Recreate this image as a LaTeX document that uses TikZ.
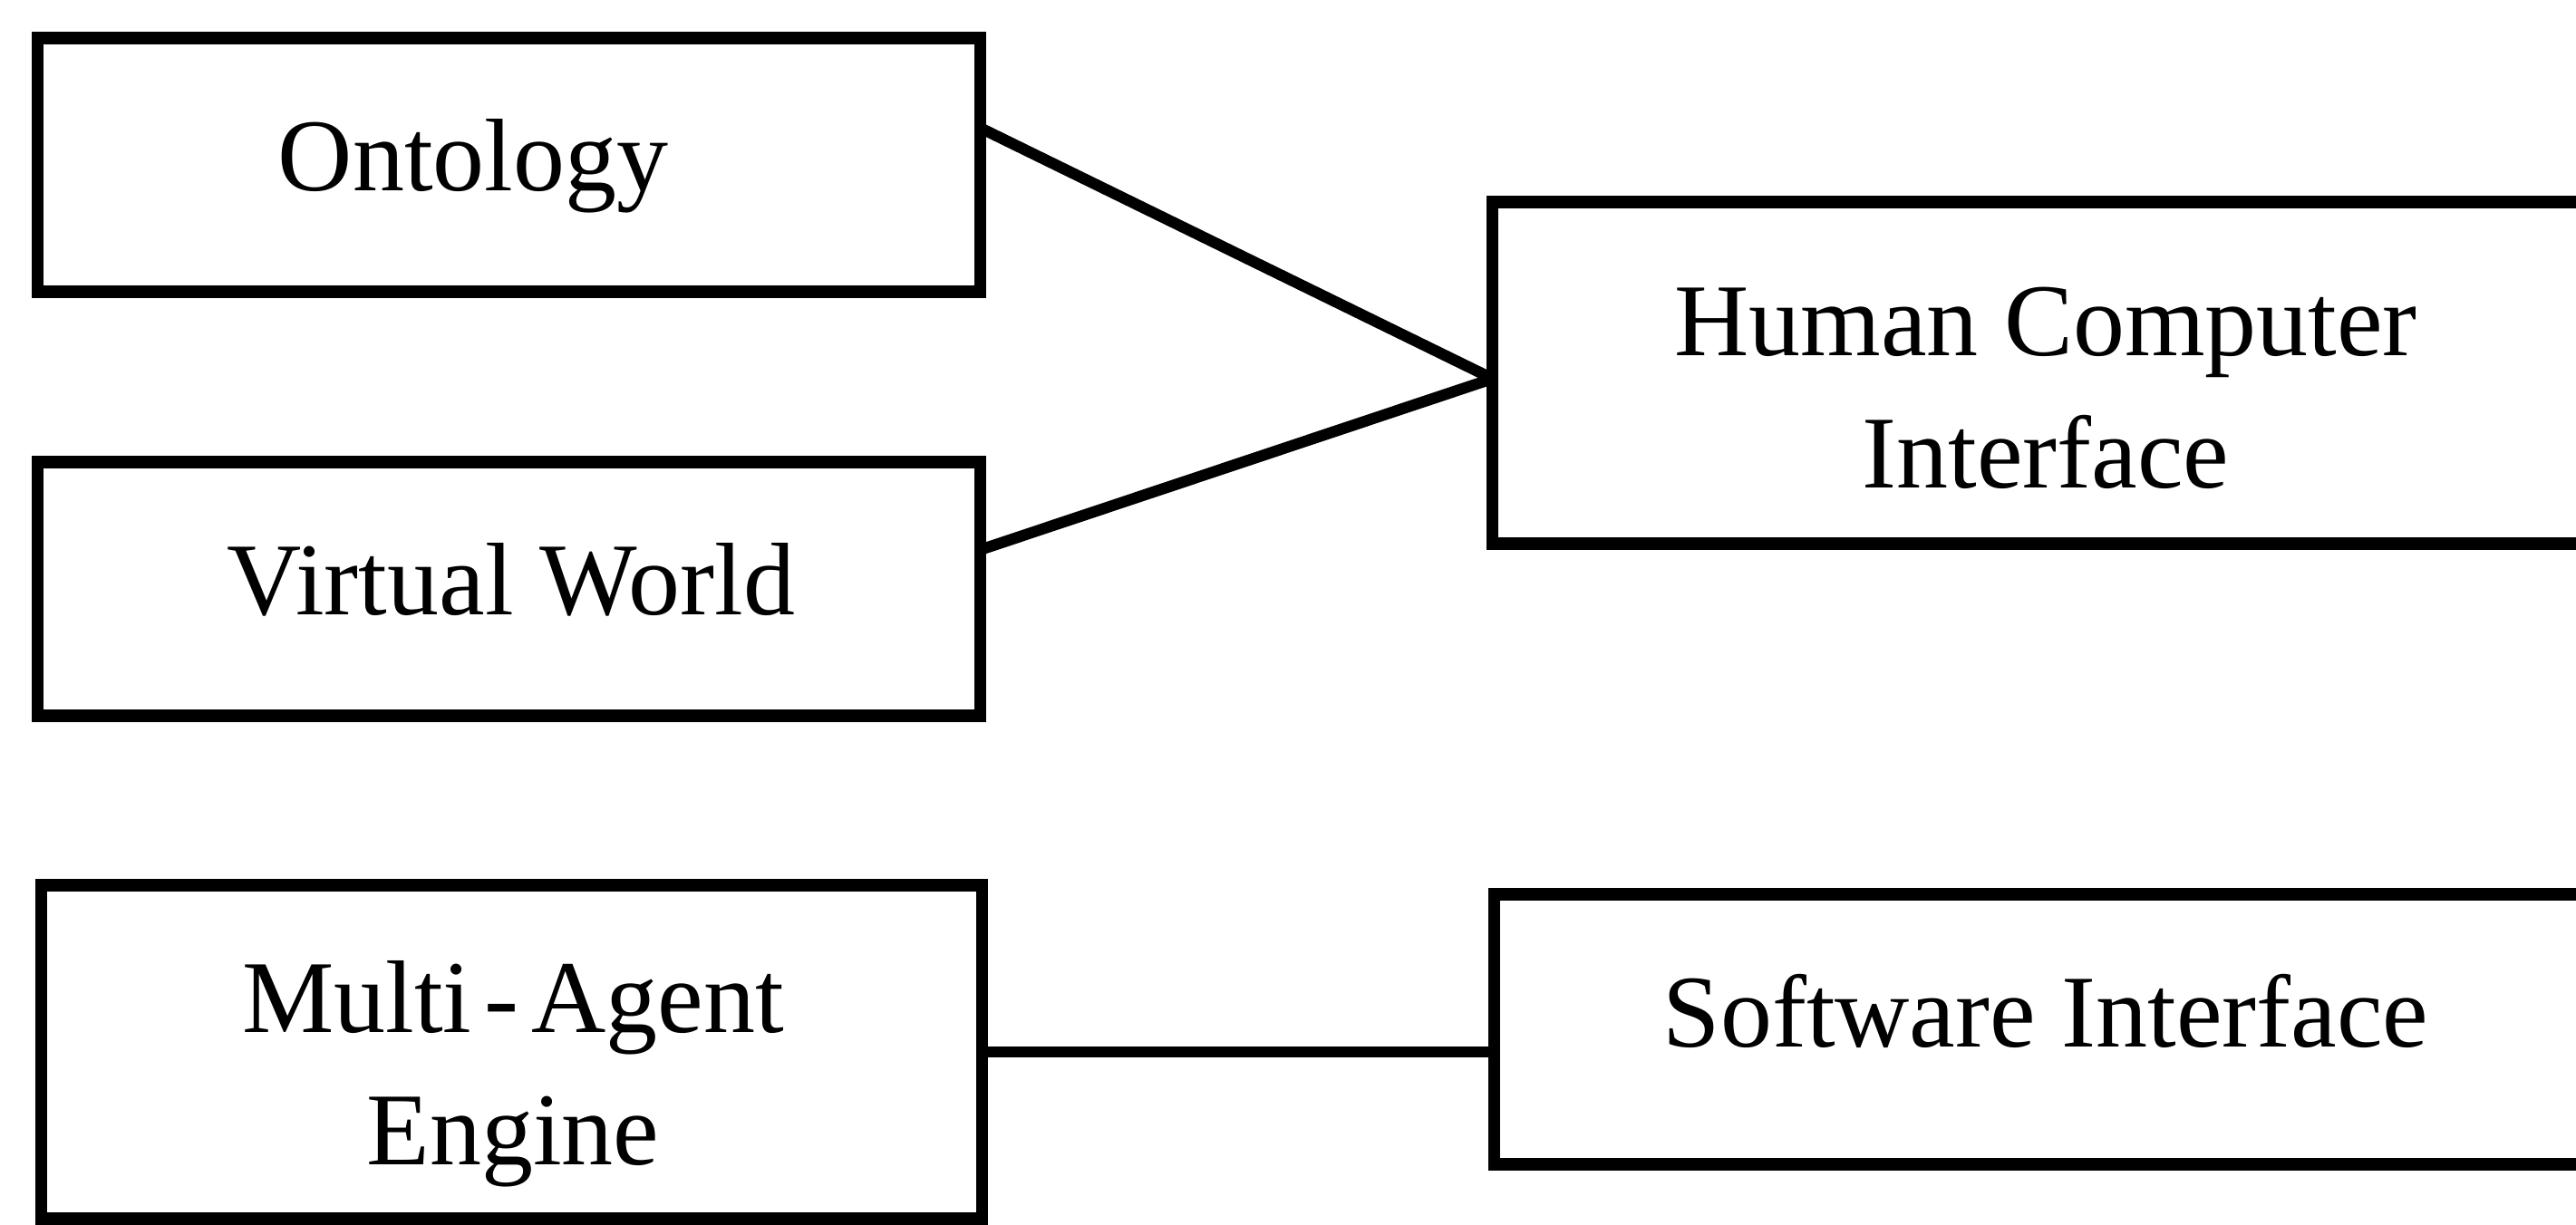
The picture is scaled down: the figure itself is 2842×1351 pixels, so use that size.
\documentclass[tikz,border=0pt]{standalone}
\usepackage{fontspec}
\setmainfont{Liberation Serif}
\usetikzlibrary{calc}
\begin{document}
\begin{tikzpicture}[x=0.01cm, y=-0.01cm,
  box/.style={draw=black, line width=3.8pt, rectangle, inner sep=0pt, outer sep=0pt},
  lbl/.style={inner sep=0pt, align=center, anchor=base,
    font=\fontsize{32.4pt}{41.5pt}\selectfont},
  link/.style={line width=3.5pt, line cap=round, line join=round}]
  \useasboundingbox (0,0) rectangle (2842,1351);
  \fill[white] (0,0) rectangle (2842,1351);

  % boxes
  \node[box, minimum width=10.39cm, minimum height=2.80cm] (ont) at (561.5,182) {};
  \node[box, minimum width=10.39cm, minimum height=2.80cm] (vw)  at (561.5,650) {};
  \node[box, minimum width=10.37cm, minimum height=3.68cm] (mae) at (564.5,1161) {};
  \node[box, minimum width=12.21cm, minimum height=3.77cm] (hci) at (2257.5,411.5) {};
  \node[box, minimum width=12.19cm, minimum height=2.98cm] (si)  at (2258.5,1136) {};

  % labels (base anchor of a two-line label sits on its last line)
  \node[lbl] (tont) at (522,210) {Ontology};
  \node[lbl] (tvw)  at (564,678) {Virtual World};
  \node[lbl] (tmae) at (566,1285) {Multi\kern4pt-\kern4pt Agent\\Engine};
  \node[lbl] (thci) at (2257,538) {Human Computer\\Interface};
  \node[lbl] (tsi)  at (2257,1155) {Software Interface};

  % connectors
  \coordinate (hcin) at ($(hci.north west)!0.517!(hci.south west)$);
  \draw[link] ($(ont.north east)!0.354!(ont.south east)$) -- (hcin);
  \draw[link] ($(vw.north east)!0.346!(vw.south east)$) -- (hcin);
  \draw[link] (mae.east) -- (mae.east -| si.west);
\end{tikzpicture}
\end{document}
